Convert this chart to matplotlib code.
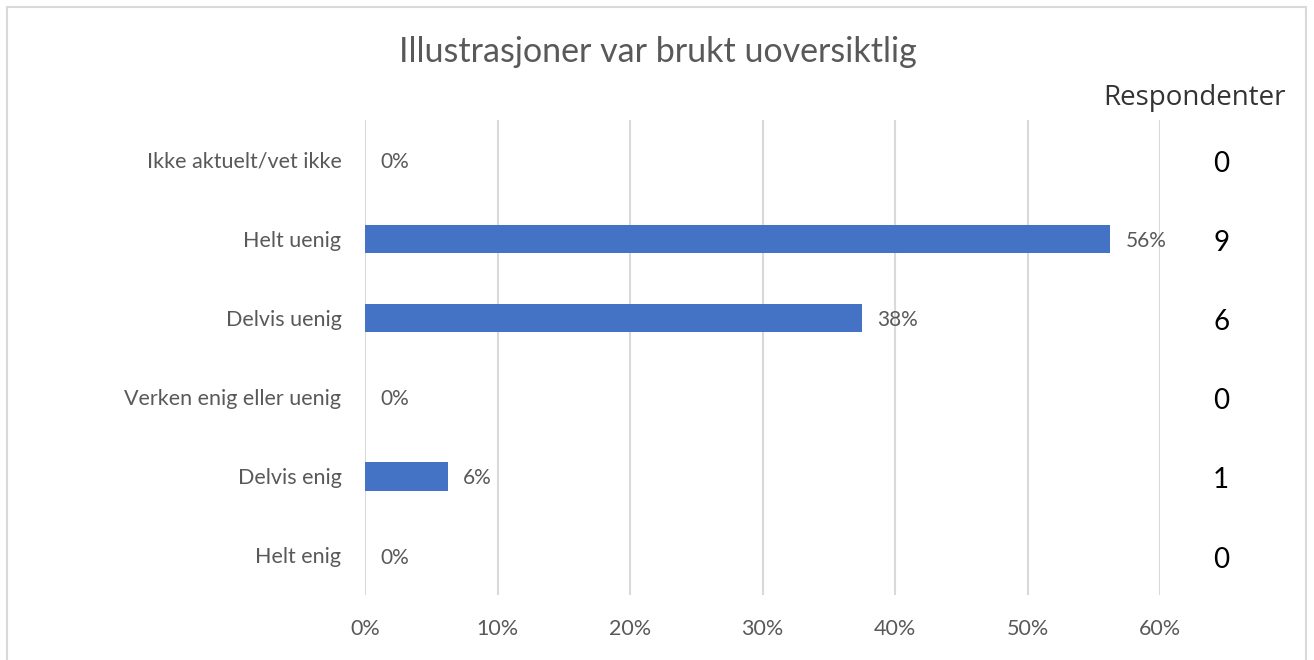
import matplotlib
matplotlib.use("Agg")
import matplotlib.pyplot as plt
from matplotlib.patches import Rectangle
from matplotlib.ticker import FuncFormatter

kategorier = ["Ikke aktuelt/vet ikke", "Helt uenig", "Delvis uenig",
              "Verken enig eller uenig", "Delvis enig", "Helt enig"]
andel = [0, 56.25, 37.5, 0, 6.25, 0]
respondenter = [0, 9, 6, 0, 1, 0]
tikker = [0, 10, 20, 30, 40, 50, 60]

plt.rcParams["font.family"] = ["Lato", "DejaVu Sans"]
grå = "#595959"

fig = plt.figure(figsize=(13.14, 6.6), dpi=100)
ax = fig.add_axes([365 / 1314, 1 - 595 / 660, (1160 - 365) / 1314, (595 - 120) / 660])

y = list(range(len(kategorier)))
ax.barh(y, andel, height=0.36, color="#4472C4", zorder=3)
ax.set_ylim(len(kategorier) - 0.5, -0.5)
ax.set_xlim(0, 60)
ax.set_yticks(y)
ax.set_yticklabels(kategorier, fontsize=15.5, color=grå)
ax.set_xticks(tikker)
ax.xaxis.set_major_formatter(FuncFormatter(lambda v, p: f"{v:.0f}%"))
ax.tick_params(axis="x", labelsize=15.5, labelcolor=grå, length=0, pad=17)
ax.tick_params(axis="y", length=0, pad=17)
ax.grid(axis="x", color="#d9d9d9", linewidth=1.5, zorder=0)
for s in ax.spines.values():
    s.set_visible(False)

for i, v in enumerate(andel):
    ax.annotate(f"{v:.0f}%", (v, i), xytext=(11, -1.5), textcoords="offset points",
                ha="left", va="center", fontsize=15, color=grå)

for i, n in enumerate(respondenter):
    ax.annotate(str(n), (1, i), xycoords=("axes fraction", "data"),
                xytext=(44, -3), textcoords="offset points",
                ha="center", va="center", fontsize=20, color="black")

fig.text(1286 / 1314, 1 - 98 / 660, "Respondenter", ha="right", va="center",
         fontsize=20, color="#333333", family=["Open Sans", "DejaVu Sans"])
fig.text(658 / 1314, 1 - 52 / 660, "Illustrasjoner var brukt uoversiktlig",
         ha="center", va="center", fontsize=24.5, color=grå)

fig.patches.append(Rectangle((7 / 1314, -0.01), 1299 / 1314, 1 - 7 / 660 + 0.01,
                             transform=fig.transFigure, fill=False,
                             edgecolor="#d9d9d9", linewidth=1.5))

fig.savefig("out.png", dpi=100)
